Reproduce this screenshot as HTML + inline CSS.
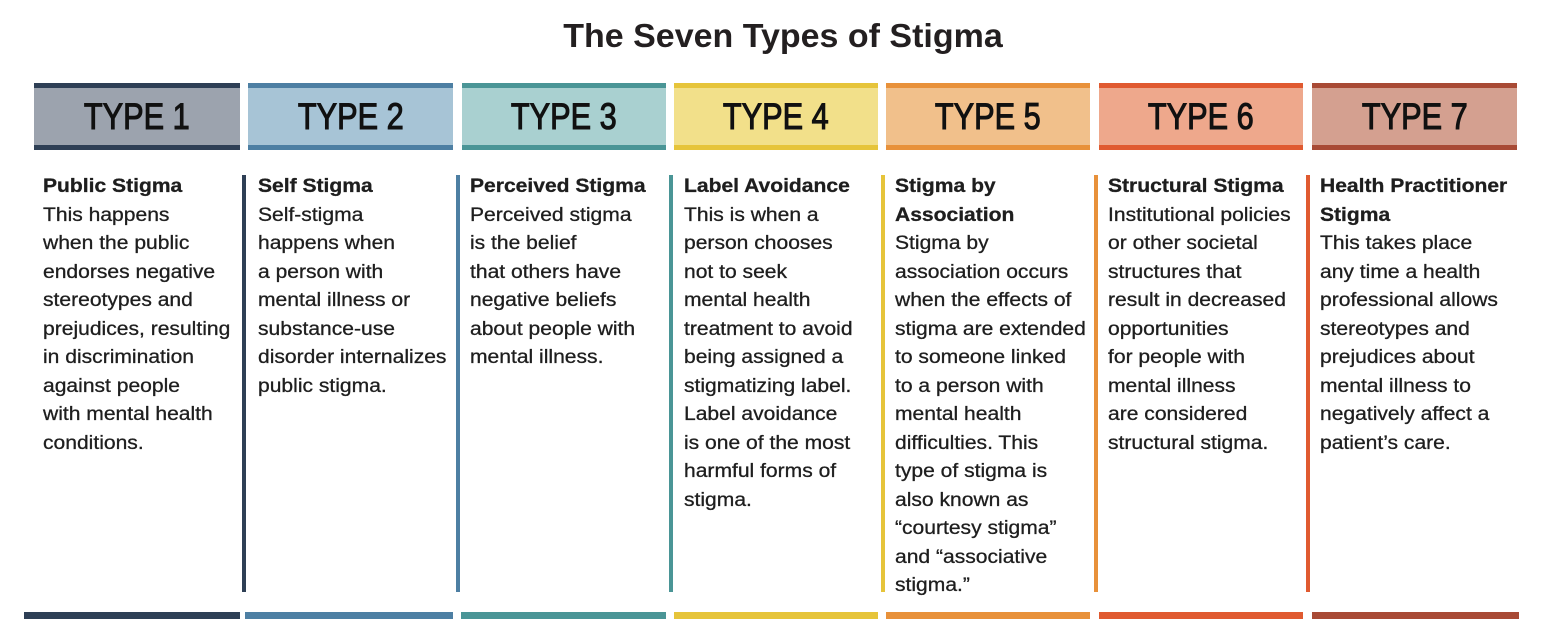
<!DOCTYPE html>
<html><head><meta charset="utf-8"><style>
body{margin:0;width:1566px;height:632px;background:#fff;position:relative;overflow:hidden;font-family:"Liberation Sans",Arial,sans-serif;color:#231f20}
.t{position:absolute;left:0;width:1566px;top:17px;text-align:center;font-size:33px;font-weight:bold;transform:scaleX(1.03)}
.h{position:absolute;top:83px;height:67px;box-sizing:border-box;border-top:5px solid;border-bottom:5px solid;text-align:center;font-size:37px;line-height:58px;color:#111;-webkit-text-stroke:1.1px #111}
.h span{display:inline-block;transform:scaleX(0.83)}
.v{position:absolute;top:175px;width:4px;height:417px}
.b{position:absolute;top:612px;height:7px}
.c{position:absolute;top:172px;font-size:19.5px;line-height:28.5px;white-space:nowrap;transform-origin:0 0;transform:scaleX(1.08);color:#1e1e1e;-webkit-text-stroke:0.3px #1e1e1e}
.c b{font-weight:bold}
</style></head><body>
<div class="t">The Seven Types of Stigma</div>

<div class="h" style="left:34px;width:206px;background:#9ca3ae;border-color:#2e3f55"><span>TYPE 1</span></div>
<div class="h" style="left:248px;width:205px;background:#a7c4d6;border-color:#4d7fa3"><span>TYPE 2</span></div>
<div class="h" style="left:462px;width:204px;background:#a9d0d0;border-color:#4a9596"><span>TYPE 3</span></div>
<div class="h" style="left:674px;width:204px;background:#f2e08a;border-color:#e6c43a"><span>TYPE 4</span></div>
<div class="h" style="left:886px;width:204px;background:#f1c08b;border-color:#e8913a"><span>TYPE 5</span></div>
<div class="h" style="left:1099px;width:204px;background:#eea88c;border-color:#e05a30"><span>TYPE 6</span></div>
<div class="h" style="left:1312px;width:205px;background:#d4a090;border-color:#a84a35"><span>TYPE 7</span></div>

<div class="v" style="left:242px;background:#2e3f55"></div>
<div class="v" style="left:456px;background:#4d7fa3"></div>
<div class="v" style="left:669px;background:#4a9596"></div>
<div class="v" style="left:881px;background:#e6c43a"></div>
<div class="v" style="left:1094px;background:#e8913a"></div>
<div class="v" style="left:1306px;background:#e05a30"></div>

<div class="b" style="left:24px;width:216px;background:#2e3f55"></div>
<div class="b" style="left:245px;width:208px;background:#4d7fa3"></div>
<div class="b" style="left:461px;width:205px;background:#4a9596"></div>
<div class="b" style="left:674px;width:204px;background:#e6c43a"></div>
<div class="b" style="left:886px;width:204px;background:#e8913a"></div>
<div class="b" style="left:1099px;width:204px;background:#e05a30"></div>
<div class="b" style="left:1312px;width:207px;background:#a84a35"></div>

<div class="c" style="left:43px"><b>Public Stigma</b><br>This happens<br>when the public<br>endorses negative<br>stereotypes and<br>prejudices, resulting<br>in discrimination<br>against people<br>with mental health<br>conditions.</div>
<div class="c" style="left:258px"><b>Self Stigma</b><br>Self-stigma<br>happens when<br>a person with<br>mental illness or<br>substance-use<br>disorder internalizes<br>public stigma.</div>
<div class="c" style="left:470px"><b>Perceived Stigma</b><br>Perceived stigma<br>is the belief<br>that others have<br>negative beliefs<br>about people with<br>mental illness.</div>
<div class="c" style="left:684px"><b>Label Avoidance</b><br>This is when a<br>person chooses<br>not to seek<br>mental health<br>treatment to avoid<br>being assigned a<br>stigmatizing label.<br>Label avoidance<br>is one of the most<br>harmful forms of<br>stigma.</div>
<div class="c" style="left:895px"><b>Stigma by<br>Association</b><br>Stigma by<br>association occurs<br>when the effects of<br>stigma are extended<br>to someone linked<br>to a person with<br>mental health<br>difficulties. This<br>type of stigma is<br>also known as<br>“courtesy stigma”<br>and “associative<br>stigma.”</div>
<div class="c" style="left:1108px"><b>Structural Stigma</b><br>Institutional policies<br>or other societal<br>structures that<br>result in decreased<br>opportunities<br>for people with<br>mental illness<br>are considered<br>structural stigma.</div>
<div class="c" style="left:1320px"><b>Health Practitioner<br>Stigma</b><br>This takes place<br>any time a health<br>professional allows<br>stereotypes and<br>prejudices about<br>mental illness to<br>negatively affect a<br>patient’s care.</div>
</body></html>
